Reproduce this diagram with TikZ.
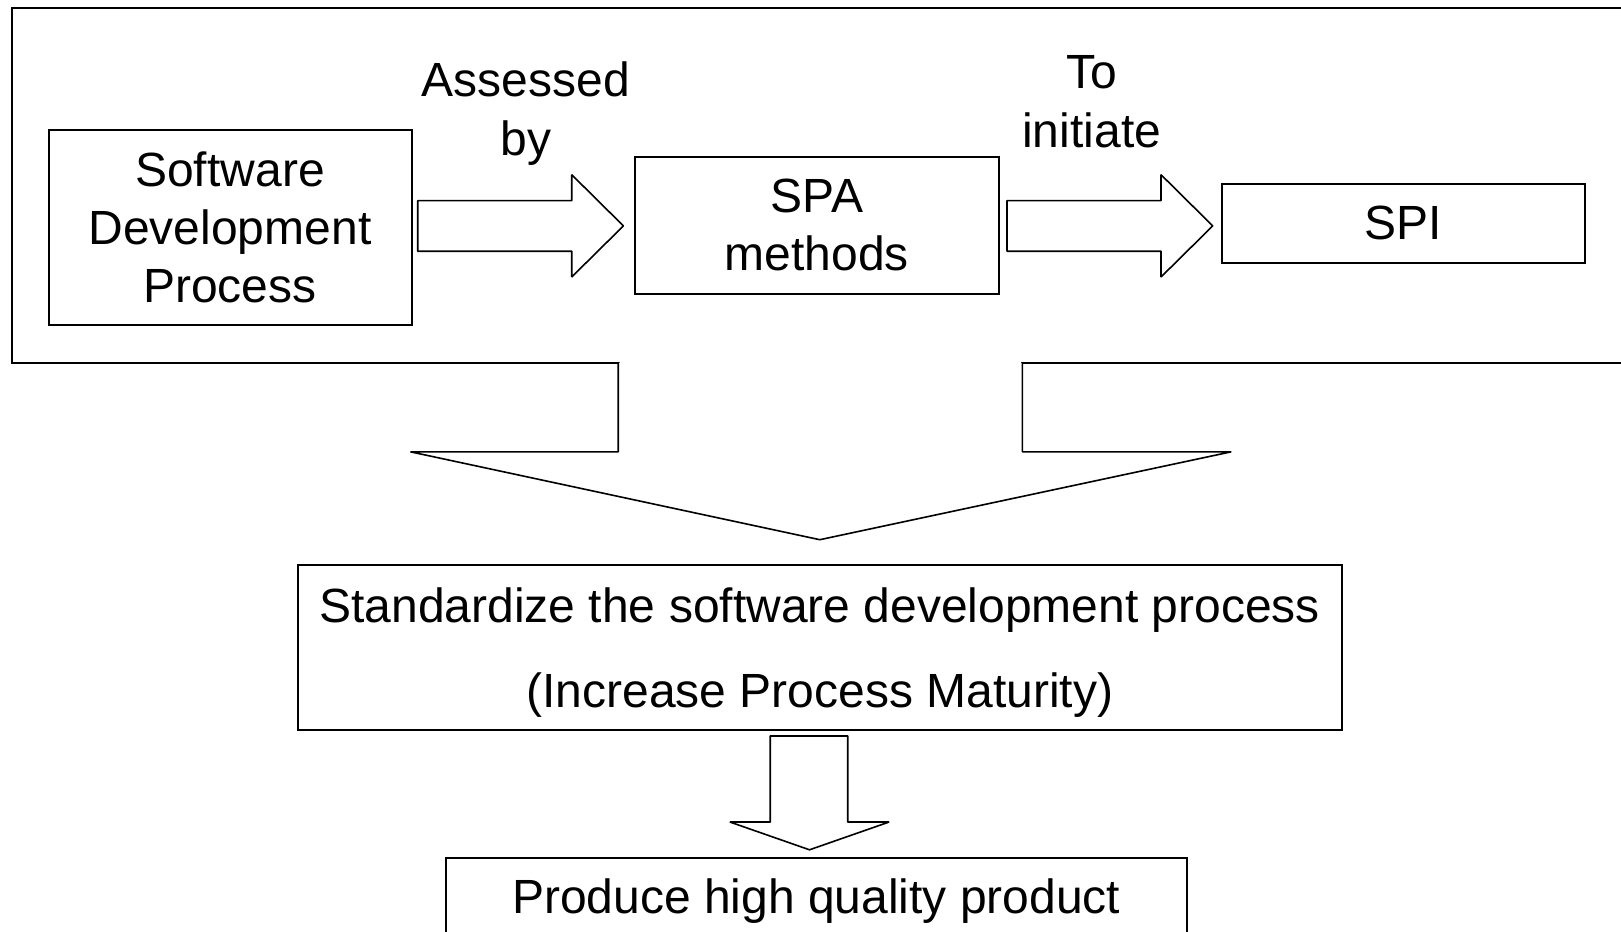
\documentclass[tikz,border=0pt]{standalone}
\usepackage{fontspec}
\setmainfont{Liberation Sans}
\begin{document}
\begin{tikzpicture}[x=0.5pt,y=-0.5pt,
  box/.style={draw=black,line width=1pt,fill=white,rectangle,inner sep=0pt,
    align=center,font=\fontsize{24}{29}\selectfont},
  lbl/.style={align=center,inner sep=0pt,font=\fontsize{24}{29.5}\selectfont},
  blockarrow/.style={draw=black,line width=0.8pt,fill=white,line join=bevel}]
\useasboundingbox (0,0) rectangle (1621,931);
\clip (0,0) rectangle (1621,931);
\fill[white] (0,0) rectangle (1621,931);

% enclosing frame of the upper row (runs off the right edge)
\draw[line width=1pt] (12.4,8.3) rectangle (1650,363);

% upper row
\node[box,minimum width=181.5pt,minimum height=97.3pt] (sdp) at (230,227.3)
  {Software\\Development\\Process};
\node[box,minimum width=182pt,minimum height=68.3pt] (spa) at (816.8,225.3)
  {SPA\\methods};
\node[box,minimum width=181.5pt,minimum height=39.3pt] (spi) at (1403.5,223.3)
  {SPI};

\node[lbl] (assessed) at (526,114) {Assessed\\by};
\node[lbl] (initiate) at (1091.7,102) {To\\initiate};

% block arrows between the upper boxes
\draw[blockarrow] (417.7,200.6) -- (571.7,200.6) -- (571.7,174.7)
  -- (623.4,225.9) -- (571.7,277) -- (571.7,251.2) -- (417.7,251.2) -- cycle;
\draw[blockarrow] (1007,200.6) -- (1161,200.6) -- (1161,174.7)
  -- (1212.7,225.9) -- (1161,277) -- (1161,251.2) -- (1007,251.2) -- cycle;

% wide arrow leaving the frame
\fill[white] (619.5,355) -- (619.5,451.8) -- (410.4,451.8) -- (819.8,539.7)
  -- (1231.3,451.8) -- (1021.1,451.8) -- (1021.1,355) -- cycle;
\draw[blockarrow] (618.2,363) -- (618.2,451.8) -- (410.4,451.8) -- (819.8,539.7)
  -- (1231.3,451.8) -- (1022.4,451.8) -- (1022.4,363);

% lower boxes
\node[box,minimum width=522.1pt,minimum height=82.7pt] (std) at (819.8,647.2) {};
\node[lbl,font=\fontsize{24}{42.4}\selectfont] (stdtext) at (819.8,652.5)
  {Standardize the software development process\\(Increase Process Maturity)};
\node[box,minimum width=370.6pt,minimum height=48pt,anchor=north] (hq)
  at (816.2,857) {};
\node[lbl,anchor=base] (hqtext) at (816.2,913) {Produce high quality product};

% small arrow between the lower boxes
\draw[blockarrow] (770.2,736) -- (847.7,736) -- (847.7,822) -- (889.1,822)
  -- (809.5,849.8) -- (729.9,822) -- (770.2,822) -- cycle;
\end{tikzpicture}
\end{document}
